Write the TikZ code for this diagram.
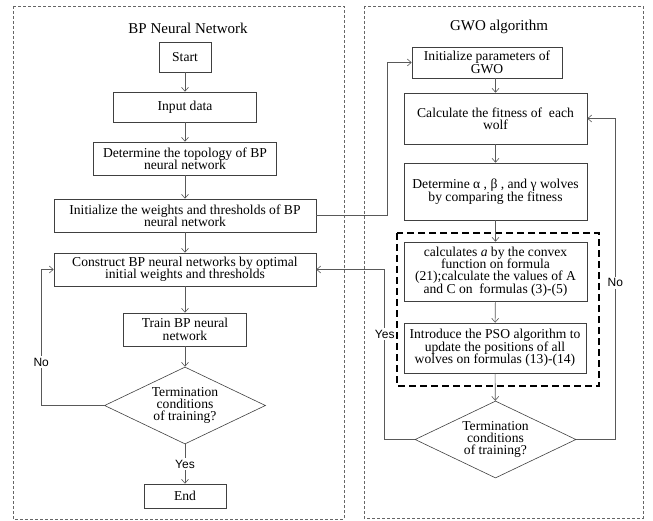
\documentclass[tikz,border=0pt]{standalone}
\usepackage{fontspec}
\setmainfont{Liberation Serif}
\newfontfamily\lblfont{Liberation Sans}
\usetikzlibrary{arrows.meta,shapes.geometric}
\newcommand{\boxfont}{\fontsize{13.6}{12.4}\selectfont\lineskiplimit=-6pt\relax}
\begin{document}
\begin{tikzpicture}[x=1pt,y=-1pt]
                \tikzstyle{every node}+=[inner sep=0pt]
                \tikzstyle{blk}=[draw=black!75,line width=0.6pt,align=center,font=\boxfont]
                \tikzstyle{dec}=[blk,diamond,aspect=2,minimum width=161,minimum height=77]
                \tikzstyle{lnk}=[draw=black!65,line width=0.6pt,-{Straight Barb[length=4pt,width=7pt]}]
                \tikzstyle{frm}=[draw=black!60,line width=0.6pt,dash pattern=on 3pt off 2pt]
                \tikzstyle{lbl}=[fill=white,inner sep=1.5pt,font=\lblfont\fontsize{12}{12}\selectfont]
                \tikzstyle{ttl}=[font=\fontsize{15}{15}\selectfont]
                \useasboundingbox (0,0) rectangle (653,521);
                \draw [frm] (13,6) rectangle (344,519);
                \draw [frm] (364,6) rectangle (643,518);
                \draw [black,line width=1.6pt,dash pattern=on 7pt off 4pt] (397,233) rectangle (599,386);
                \node [ttl] (ttlbp) at (188,28) {BP Neural Network};
                \node [ttl] (ttlgwo) at (499,27) {GWO algorithm};
                \node [blk,minimum width=52,minimum height=30] (start) at (185,57) {Start};
                \node [blk,minimum width=143,minimum height=30] (input) at (185,107) {Input data};
                \node [blk,minimum width=183,minimum height=33] (topo) at (185,158.5) {Determine the topology of BP\\neural network};
                \node [blk,minimum width=262,minimum height=33] (initw) at (185,215.5) {Initialize the weights and thresholds of BP\\neural network};
                \node [blk,minimum width=262,minimum height=33] (cons) at (185,269.5) {Construct BP neural networks by optimal\\initial weights and thresholds};
                \node [blk,minimum width=123,minimum height=33] (train) at (185,329.5) {Train BP neural\\network};
                \node [dec] (term) at (185,405.5) {Termination\\conditions\\of training?};
                \node [blk,minimum width=82,minimum height=24] (end) at (185,496) {End};
                \node [blk,minimum width=150,minimum height=31] (initg) at (487,62.5) {Initialize parameters of\\GWO};
                \node [blk,minimum width=183,minimum height=51] (fit) at (495.5,118.5) {Calculate the fitness of \ each\\wolf};
                \node [blk,minimum width=183,minimum height=57] (det) at (495.5,191.5) {Determine α , β , and γ wolves\\by comparing the fitness};
                \node [blk,minimum width=183,minimum height=59] (calc) at (495.5,271.5) {calculates \textit{a} by the convex\\function on formula\\(21);calculate the values of A\\and C on \ formulas (3)-(5)};
                \node [blk,minimum width=182,minimum height=50] (pso) at (495,348) {Introduce the PSO algorithm to\\update the positions of all\\wolves on formulas (13)-(14)};
                \node [dec] (term2) at (495.5,439.5) {Termination\\conditions\\of training?};
                \draw [lnk] (start) -- (input);
                \draw [lnk] (input) -- (topo);
                \draw [lnk] (topo) -- (initw);
                \draw [lnk] (initw) -- (cons);
                \draw [lnk] (cons) -- (train);
                \draw [lnk] (train) -- (term);
                \draw [lnk] (term) -- node [lbl] {Yes} (end);
                \draw [lnk] (term.west) -- ++(-63,0) |- node [lbl,pos=0.16] {No} (cons.west);
                \draw [lnk] (initw.east) -- ++(71,0) |- (initg.west);
                \draw [lnk] (initg.south -| fit.north) -- (fit.north);
                \draw [lnk] (fit) -- (det);
                \draw [lnk] (det) -- (calc);
                \draw [lnk] (calc) -- (pso);
                \draw [lnk] (pso) -- (term2);
                \draw [lnk] (term2.west) -- ++(-30,0) |- node [lbl,pos=0.31] {Yes} (cons.east);
                \draw [lnk] (term2.east) -- ++(39,0) |- node [lbl,pos=0.244] {No} (fit.east);
            \end{tikzpicture}
\end{document}
